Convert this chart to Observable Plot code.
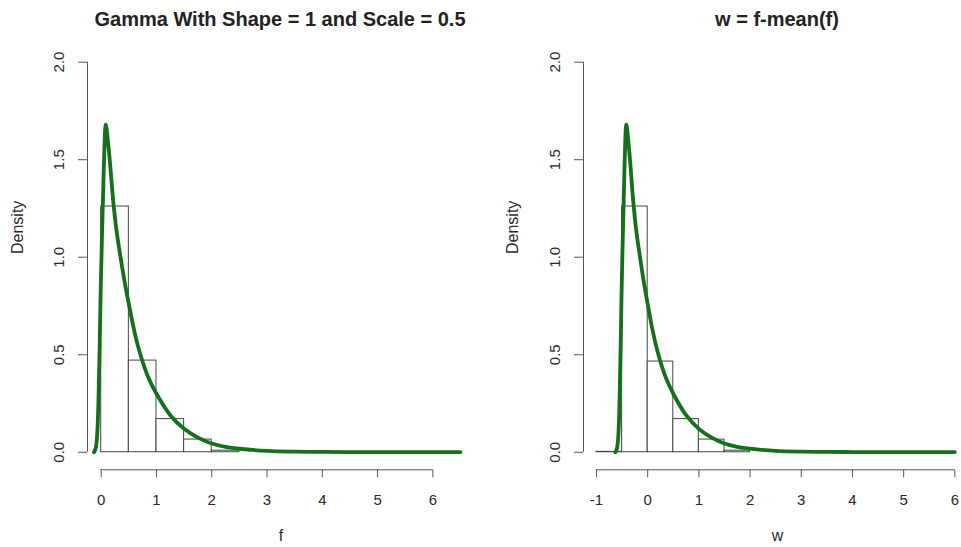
<!DOCTYPE html>
<html><head><meta charset="utf-8">
<script src="https://cdn.jsdelivr.net/npm/d3@7"></script>
<script src="https://cdn.jsdelivr.net/npm/@observablehq/plot@0.6"></script>
<style>
body{margin:0;background:#fff;font-family:"Liberation Sans",Arial,sans-serif;}
#wrap{position:relative;width:961px;height:547px;overflow:hidden;background:#fff;}
.title{position:absolute;top:8px;font-weight:bold;font-size:20px;line-height:1.15;color:#222;white-space:nowrap;transform:translateX(-50%);}
.panel{position:absolute;top:0;}
</style></head><body>
<div id="wrap">
  <div class="panel" id="left" style="left:0;width:480px"></div>
  <div class="panel" id="right" style="left:480px;width:481px"></div>
  <div class="title" style="left:280px">Gamma With Shape = 1 and Scale = 0.5</div>
  <div class="title" style="left:777px">w = f-mean(f)</div>
</div>
<script>
// ---- data ----
const yTicks = [0, 0.5, 1, 1.5, 2];
const fTicks = [0, 1, 2, 3, 4, 5, 6];
const wTicks = [-1, 0, 1, 2, 3, 4, 5, 6];

// histogram of f (density scale)
const fBinLo = [0, 0.5, 1, 1.5, 2];
const fBinHi = [0.5, 1, 1.5, 2, 2.5];
const fBinDensity = [1.26, 0.47, 0.17, 0.065, 0.008];

// histogram of w
const wBinLo = [-1, -0.5, 0, 0.5, 1, 1.5];
const wBinHi = [-0.5, 0, 0.5, 1, 1.5, 2];
const wBinDensity = [0.002, 1.26, 0.465, 0.17, 0.065, 0.008];

// kernel density curve of f
const curveF = [-0.13, -0.1, -0.072, -0.036, -0.013, 0.018, 0.047, 0.083, 0.12, 0.16, 0.22, 0.28, 0.35, 0.42, 0.5, 0.6, 0.71, 0.85, 1.0, 1.25, 1.5, 1.75, 2.0, 2.25, 2.5, 3.0, 3.5, 4, 4.5, 5, 5.5, 6, 6.5];
const curveD = [0, 0.02, 0.094, 0.436, 0.778, 1.154, 1.46, 1.68, 1.6, 1.48, 1.28, 1.13, 1.0, 0.88, 0.76, 0.62, 0.5, 0.385, 0.3, 0.19, 0.12, 0.075, 0.045, 0.028, 0.018, 0.007, 0.003, 0.002, 0.001, 0.001, 0.001, 0.001, 0.001];
const meanF = 0.5;

const green = "#15701c";
const font = "'Liberation Sans', Arial, sans-serif";

function panel({lo, hi, dens, xs, xTicks, xDomain, width, marginLeft, marginRight, label, labelDx, densDx}) {
  const bins = lo.map((l, i) => ({x1: l, x2: hi[i], d: dens[i]}));
  const curve = xs.map((x, i) => ({x, d: curveD[i]}));
  return Plot.plot({
    width, height: 547,
    marginTop: 61.7, marginBottom: 77.7, marginLeft, marginRight,
    x: {domain: xDomain},
    y: {domain: [-0.09, 2.0]},
    style: {fontFamily: font, background: "white", color: "#333"},
    marks: [
      Plot.rect(bins, {x1: "x1", x2: "x2", y1: 0, y2: "d", fill: "white", stroke: "#444", strokeWidth: 1}),
      Plot.line(curve, {x: "x", y: "d", stroke: green, strokeWidth: 3.8, curve: "catmull-rom"}),
      Plot.ruleX([xDomain[0]], {y1: yTicks[0], y2: yTicks[yTicks.length - 1], stroke: "#555"}),
      Plot.axisY({ticks: yTicks, tickSize: 9, tickPadding: 15, tickRotate: -90, tickFormat: d3.format(".1f"), fontSize: 15, stroke: "#555", fill: "#2a2a2a", label: null}),
      Plot.ruleY([-0.09], {x1: xTicks[0], x2: xTicks[xTicks.length - 1], stroke: "#555"}),
      Plot.axisX({ticks: xTicks, tickSize: 8, tickPadding: 17, tickFormat: d => String(d), fontSize: 15, stroke: "#555", fill: "#2a2a2a", label: null}),
      Plot.text(["Density"], {frameAnchor: "left", rotate: -90, dx: densDx, dy: -12, fontSize: 16, fill: "#2a2a2a"}),
      Plot.text([label], {frameAnchor: "bottom", dx: labelDx, dy: 71, fontSize: 16, fill: "#2a2a2a"})
    ]
  });
}

document.getElementById("left").append(panel({
  lo: fBinLo, hi: fBinHi, dens: fBinDensity, xs: curveF, xTicks: fTicks,
  xDomain: [-0.248, 6.75], width: 480, marginLeft: 87, marginRight: 6.2,
  label: "f", labelDx: 0, densDx: -70
}));
document.getElementById("right").append(panel({
  lo: wBinLo, hi: wBinHi, dens: wBinDensity, xs: curveF.map(f => f - meanF), xTicks: wTicks,
  xDomain: [-1.254, 6.05], width: 481, marginLeft: 103, marginRight: 4.1,
  label: "w", labelDx: 7, densDx: -71
}));
</script>
</body></html>
